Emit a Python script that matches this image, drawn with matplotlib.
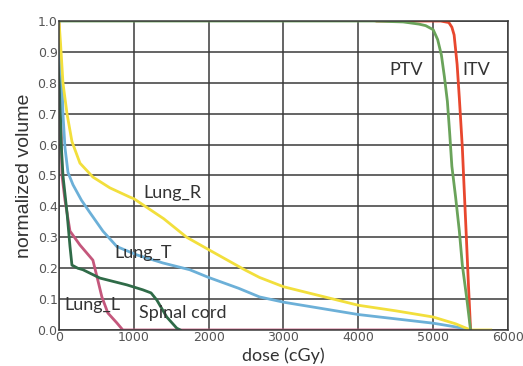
import matplotlib
matplotlib.use("Agg")
import matplotlib.pyplot as plt

# dose-volume histogram values (dose in cGy, normalized volume)
ptv_dose = [0, 4200, 4600, 4810, 4900, 5000, 5060, 5110, 5150, 5190, 5220, 5250, 5300, 5350, 5390, 5450, 5500]
ptv_vol = [1.0, 1.0, 0.997, 0.99, 0.985, 0.972, 0.94, 0.89, 0.82, 0.74, 0.64, 0.53, 0.43, 0.32, 0.21, 0.10, 0.0]

itv_dose = [4250, 5100, 5210, 5250, 5280, 5320, 5350, 5390, 5410, 5440, 5470, 5500]
itv_vol = [1.0, 1.0, 0.995, 0.98, 0.955, 0.86, 0.75, 0.59, 0.48, 0.32, 0.155, 0.0]

lungr_dose = [0, 20, 53, 107, 173, 280, 453, 680, 947, 1000, 1400, 1707, 2000, 2480, 2680,
              3000, 3500, 4000, 4500, 5000, 5300, 5500, 5770]
lungr_vol = [1.0, 0.93, 0.80, 0.70, 0.61, 0.54, 0.495, 0.46, 0.43, 0.425, 0.36, 0.30, 0.26, 0.195, 0.17,
             0.14, 0.11, 0.08, 0.062, 0.042, 0.02, 0.0, 0.0]

lungt_dose = [0, 20, 40, 53, 80, 120, 187, 300, 413, 587, 773, 1040, 1387, 1747, 2000, 2400, 2680,
              3000, 3500, 4000, 4500, 5000, 5300, 5500]
lungt_vol = [0.95, 0.87, 0.80, 0.70, 0.59, 0.51, 0.47, 0.42, 0.38, 0.32, 0.27, 0.243, 0.217, 0.195, 0.17, 0.135, 0.107,
             0.09, 0.07, 0.05, 0.036, 0.022, 0.01, 0.0]

cord_dose = [0, 15, 30, 53, 80, 107, 147, 173, 250, 320, 547, 907, 1120, 1230, 1307, 1440, 1573, 1620]
cord_vol = [0.95, 0.75, 0.60, 0.50, 0.44, 0.38, 0.27, 0.21, 0.20, 0.195, 0.168, 0.146, 0.13, 0.12, 0.097, 0.042, 0.006, 0.0]

lungl_dose = [0, 13, 27, 40, 80, 147, 280, 453, 520, 573, 653, 773, 853, 5500]
lungl_vol = [1.0, 0.85, 0.65, 0.50, 0.42, 0.32, 0.275, 0.226, 0.16, 0.107, 0.055, 0.023, 0.0, 0.0]

x_ticks = [0, 1000, 2000, 3000, 4000, 5000, 6000]
y_ticks = [0.0, 0.1, 0.2, 0.3, 0.4, 0.5, 0.6, 0.7, 0.8, 0.9, 1.0]

plt.rcParams['font.family'] = ['Lato', 'DejaVu Sans']

fig = plt.figure(figsize=(5.23, 3.66), dpi=100)
ax = fig.add_axes([0.1128, 0.0984, 0.8585, 0.8442])

ax.grid(True, color='#3a3a3a', linewidth=1.1)
ax.set_axisbelow(True)

ax.plot(lungl_dose, lungl_vol, color='#c4577c', lw=2)
ax.plot(cord_dose, cord_vol, color='#2f6b48', lw=2)
ax.plot(lungt_dose, lungt_vol, color='#6cb0d8', lw=2)
ax.plot(lungr_dose, lungr_vol, color='#f2df3c', lw=2)
ax.plot(itv_dose, itv_vol, color='#e8472e', lw=2)
ax.plot(ptv_dose, ptv_vol, color='#6aa35a', lw=2)

lab_kw = dict(ha='center', va='center', fontsize=13, color='#333333')
ax.text(4640, 0.84, 'PTV', **lab_kw)
ax.text(5573, 0.84, 'ITV', **lab_kw)
ax.text(1520, 0.443, 'Lung_R', **lab_kw)
ax.text(1120, 0.25, 'Lung_T', **lab_kw)
ax.text(453, 0.08, 'Lung_L', **lab_kw)
ax.text(1650, 0.055, 'Spinal cord', **lab_kw)

ax.set_xlim(0, 6000)
ax.set_ylim(0, 1.0)
ax.set_xticks(x_ticks)
ax.set_yticks(y_ticks)
ax.set_yticklabels(['%.1f' % v for v in y_ticks])
ax.tick_params(length=0, labelsize=9, colors='#555555', pad=1)
for lab in ax.get_xticklabels() + ax.get_yticklabels():
    lab.set_family(['Liberation Sans Narrow', 'DejaVu Sans'])

for s in ax.spines.values():
    s.set_color('#3a3a3a')
    s.set_linewidth(1.1)

ax.set_xlabel('dose (cGy)', fontsize=13, color='#333333', labelpad=2)
ax.set_ylabel('normalized volume', fontsize=14, color='#333333', labelpad=3,
              family=['Liberation Sans', 'DejaVu Sans'])

fig.savefig('out.png', dpi=100)
